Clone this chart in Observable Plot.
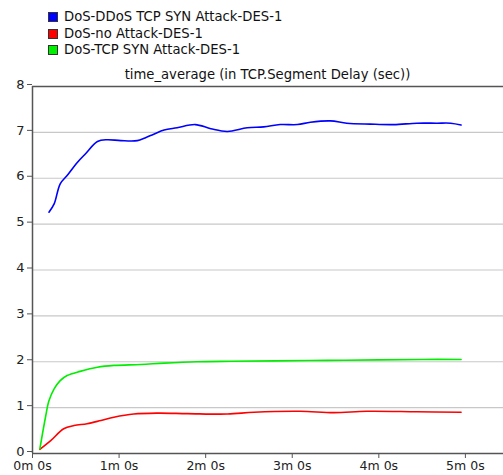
<!DOCTYPE html>
<html><head><meta charset="utf-8">
<script src="https://cdn.jsdelivr.net/npm/d3@7"></script>
<script src="https://cdn.jsdelivr.net/npm/@observablehq/plot@0.6"></script>
<style>
body{margin:0;background:#fff;font-family:"DejaVu Sans",sans-serif;}
#wrap{position:relative;width:503px;height:475px;}
.leg{position:absolute;left:48px;font-size:13.2px;color:#111;display:flex;align-items:center;white-space:nowrap;line-height:16px;}
.leg span.sw{display:inline-block;width:8px;height:8px;border:1px solid #333;margin-right:6px;}
#title{position:absolute;left:32px;width:471px;top:67px;text-align:center;font-size:13.2px;color:#111;}
</style></head>
<body><div id="wrap"></div>
<script>
const seriesNames = ["DoS-DDoS TCP SYN Attack-DES-1","DoS-no Attack-DES-1","DoS-TCP SYN Attack-DES-1"];
const seriesColors = ["#0000ff","#ff0000","#00ee00"];
const titleText = "time_average (in TCP.Segment Delay (sec))";
// time in minutes, value in seconds
const blueT = [0.19,0.25,0.32,0.40,0.52,0.61,0.75,0.86,1.02,1.21,1.30,1.40,1.52,1.67,1.88,2.06,2.25,2.48,2.67,2.86,3.06,3.21,3.44,3.63,3.90,4.17,4.44,4.67,4.83,4.95];
const blueV = [5.26,5.44,5.88,6.06,6.35,6.53,6.80,6.84,6.82,6.82,6.88,6.96,7.05,7.10,7.17,7.08,7.02,7.10,7.12,7.17,7.17,7.22,7.25,7.20,7.18,7.17,7.20,7.20,7.20,7.16];
const redT = [0.085,0.21,0.36,0.48,0.63,0.79,0.94,1.17,1.44,1.79,2.25,2.56,3.09,3.48,3.86,4.44,4.95];
const redV = [0.09,0.28,0.54,0.61,0.65,0.72,0.79,0.86,0.88,0.87,0.86,0.90,0.92,0.89,0.92,0.91,0.90];
const greenT = [0.085,0.15,0.19,0.25,0.32,0.40,0.55,0.75,0.94,1.25,1.52,1.90,2.29,2.8,3.4,4.0,4.5,4.95];
const greenV = [0.10,0.79,1.15,1.41,1.59,1.70,1.79,1.88,1.92,1.94,1.97,2.00,2.01,2.02,2.03,2.04,2.05,2.05];
const xTicks = [0,1,2,3,4,5];
const yTicks = [0,1,2,3,4,5,6,7,8];

const data = [];
[[blueT,blueV],[redT,redV],[greenT,greenV]].forEach(([T,V],i)=>{
  T.forEach((t,j)=>data.push({series:seriesNames[i], t:t*60, v:V[j]}));
});

const chart = Plot.plot({
  width:503, height:475,
  marginTop:86, marginLeft:32, marginRight:0, marginBottom:22,
  style:{fontFamily:"DejaVu Sans, sans-serif", fontSize:"13px", color:"#222", background:"#fff"},
  x:{domain:[0,326.4], label:null},
  y:{domain:[0,8], label:null},
  color:{domain:seriesNames, range:seriesColors},
  marks:[
    Plot.gridY(yTicks,{stroke:"#c8c8c8", strokeOpacity:1, strokeWidth:1.2}),
    Plot.ruleY([8],{stroke:"#555", strokeWidth:1.5}),
    Plot.ruleY([0],{stroke:"#555", strokeWidth:1.5}),
    Plot.ruleX([0],{stroke:"#555", strokeWidth:1.5}),
    Plot.axisY(yTicks,{label:null, tickSize:5, tickPadding:3, stroke:"#555", fill:"#222", fontSize:13, dy:-2}),
    Plot.axisX(xTicks.map(d=>d*60),{label:null, tickSize:5, tickPadding:3, stroke:"#555", fill:"#222", fontSize:12.5, tickFormat:d=>`${d/60}m 0s`}),
    Plot.line(data,{x:"t", y:"v", z:"series", stroke:"series", strokeWidth:1.6, curve:"catmull-rom"})
  ]
});
const wrap = document.getElementById("wrap");
wrap.appendChild(chart);
seriesNames.forEach((n,i)=>{
  const d=document.createElement("div");
  d.className="leg"; d.style.top=(9+i*16.5)+"px";
  d.innerHTML=`<span class="sw" style="background:${seriesColors[i]}"></span>${n}`;
  wrap.appendChild(d);
});
const t=document.createElement("div"); t.id="title"; t.textContent=titleText; wrap.appendChild(t);
</script></body></html>
